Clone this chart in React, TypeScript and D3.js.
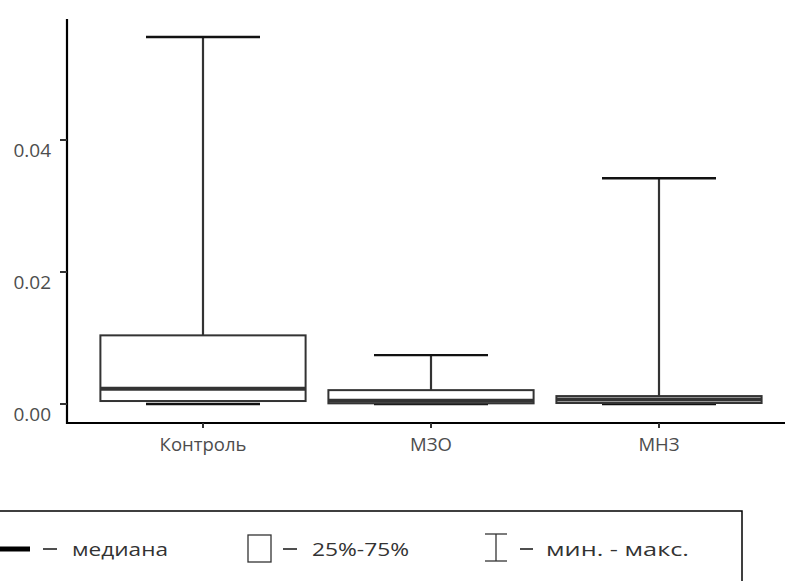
import React from "react";
import * as d3 from "d3";

const categories = ["Контроль", "МЗО", "МНЗ"];
const minValues = [0.0, 0.0, 0.0];
const q1Values = [0.00045, 0.0001, 0.00015];
const medianValues = [0.0023, 0.0005, 0.0007];
const q3Values = [0.0104, 0.0021, 0.0012];
const maxValues = [0.0556, 0.0074, 0.0342];
const yTicks = [0.0, 0.02, 0.04];

const legendItems = ["медиана", "25%-75%", "мин. - макс."];

export default function App() {
  const W = 785, H = 581;
  const x = d3.scaleBand<string>().domain(categories).range([89, 773]).padding(0);
  const y = d3.scaleLinear().domain([0, 0.04]).range([404, 140]);
  const bw = x.bandwidth();
  const boxW = bw * 0.9;
  const capW = bw * 0.5;
  const font = "'Open Sans', sans-serif";
  const stroke = "#333333";

  return (
    <svg width={W} height={H} style={{ position: "absolute", left: 0, top: 0, background: "#fff" }}>
      {categories.map((c, i) => {
        const cx = (x(c) as number) + bw / 2;
        return (
          <g key={c}>
            <line x1={cx} x2={cx} y1={y(maxValues[i])} y2={y(q3Values[i])} stroke={stroke} strokeWidth={2.2} />
            <line x1={cx - capW / 2} x2={cx + capW / 2} y1={y(maxValues[i])} y2={y(maxValues[i])} stroke="#111" strokeWidth={2.4} />
            <line x1={cx - capW / 2} x2={cx + capW / 2} y1={y(minValues[i])} y2={y(minValues[i])} stroke="#111" strokeWidth={2.4} />
            <rect x={cx - boxW / 2} y={y(q3Values[i])} width={boxW} height={y(q1Values[i]) - y(q3Values[i])} fill="#fff" stroke={stroke} strokeWidth={2} />
            <line x1={cx - boxW / 2} x2={cx + boxW / 2} y1={y(medianValues[i])} y2={y(medianValues[i])} stroke={stroke} strokeWidth={4} />
          </g>
        );
      })}
      <line x1={67} x2={67} y1={19} y2={424} stroke="#000" strokeWidth={2.2} />
      {yTicks.map((t) => (
        <g key={t}>
          <line x1={60} x2={67} y1={y(t)} y2={y(t)} stroke="#333" strokeWidth={2} />
          <text x={51} y={y(t) + 17} textAnchor="end" fontFamily={font} fontSize={19} fill="#4d4d4d">
            {d3.format(".2f")(t)}
          </text>
        </g>
      ))}
      <line x1={66} x2={785} y1={423} y2={423} stroke="#000" strokeWidth={2.2} />
      {categories.map((c) => {
        const cx = (x(c) as number) + bw / 2;
        return (
          <g key={c}>
            <line x1={cx} x2={cx} y1={423} y2={428} stroke="#333" strokeWidth={2} />
            <text x={cx} y={451} textAnchor="middle" fontFamily={font} fontSize={18.5} fill="#4d4d4d">
              {c}
            </text>
          </g>
        );
      })}
      <rect x={-2} y={511} width={744} height={80} fill="#fff" stroke="#000" strokeWidth={1.5} />
      <line x1={0} x2={30} y1={549} y2={549} stroke="#000" strokeWidth={5} />
      <line x1={43} x2={57} y1={549} y2={549} stroke="#222" strokeWidth={1.6} />
      <text x={72} y={556} fontFamily={font} fontSize={19} fill="#333" textLength={96} lengthAdjust="spacingAndGlyphs">{legendItems[0]}</text>
      <rect x={248} y={535} width={23} height={27} fill="#fff" stroke="#333" strokeWidth={1.3} />
      <line x1={283} x2={297} y1={549} y2={549} stroke="#222" strokeWidth={1.6} />
      <text x={312} y={556} fontFamily={font} fontSize={19} fill="#333" textLength={97} lengthAdjust="spacingAndGlyphs">{legendItems[1]}</text>
      <line x1={496} x2={496} y1={534} y2={561} stroke="#333" strokeWidth={1.3} />
      <line x1={485} x2={507} y1={534} y2={534} stroke="#333" strokeWidth={1.3} />
      <line x1={485} x2={507} y1={561} y2={561} stroke="#333" strokeWidth={1.3} />
      <line x1={520} x2={533} y1={549} y2={549} stroke="#222" strokeWidth={1.6} />
      <text x={546} y={556} fontFamily={font} fontSize={19} fill="#333" textLength={143} lengthAdjust="spacingAndGlyphs">{legendItems[2]}</text>
    </svg>
  );
}
